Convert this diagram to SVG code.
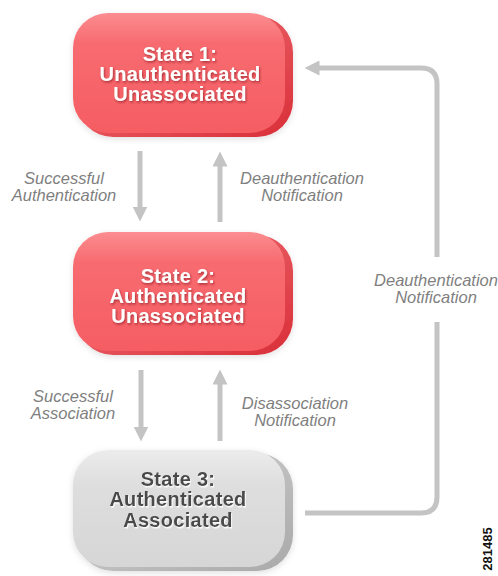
<svg xmlns="http://www.w3.org/2000/svg" width="498" height="576" viewBox="0 0 498 576">
<style>
.lbl{font-family:"Liberation Sans",Arial,sans-serif;font-size:16.5px;font-style:italic;fill:#7f7f7f;text-anchor:middle}
.st{font-family:"Liberation Sans",Arial,sans-serif;font-size:20px;font-weight:bold;text-anchor:middle;letter-spacing:0.3px}
.w{fill:#ffffff}
.d{fill:#4a4a4a}
.conn{fill:none;stroke:#c4c4c4;stroke-width:5}
</style>
<defs>
<linearGradient id="red" x1="0" y1="0" x2="0" y2="1">
<stop offset="0" stop-color="#fb8d90"/>
<stop offset="0.25" stop-color="#f76b70"/>
<stop offset="1" stop-color="#f55d63"/>
</linearGradient>
<linearGradient id="redside" x1="0" y1="0" x2="1" y2="1">
<stop offset="0" stop-color="#f27a7e"/>
<stop offset="1" stop-color="#d92e38"/>
</linearGradient>
<linearGradient id="gray" x1="0" y1="0" x2="0" y2="1">
<stop offset="0" stop-color="#ececec"/>
<stop offset="0.3" stop-color="#dedede"/>
<stop offset="1" stop-color="#d6d6d6"/>
</linearGradient>
<linearGradient id="grayside" x1="0" y1="0" x2="1" y2="1">
<stop offset="0" stop-color="#d8d8d8"/>
<stop offset="1" stop-color="#a9a9a9"/>
</linearGradient>
<filter id="ts" x="-10%" y="-20%" width="120%" height="140%">
<feDropShadow dx="1" dy="1.5" stdDeviation="0.8" flood-color="#8a1a20" flood-opacity="0.7"/>
</filter>
<filter id="tsw" x="-10%" y="-20%" width="120%" height="140%">
<feDropShadow dx="1" dy="1.5" stdDeviation="0.6" flood-color="#ffffff" flood-opacity="0.9"/>
</filter>
<filter id="bs" x="-10%" y="-10%" width="120%" height="130%">
<feDropShadow dx="0" dy="2" stdDeviation="3" flood-color="#000" flood-opacity="0.12"/>
</filter>
<marker id="ah" viewBox="0 0 10 10" refX="5" refY="5" markerWidth="3" markerHeight="3" orient="auto" markerUnits="strokeWidth">
<path d="M0,0 L10,5 L0,10 z" fill="#c4c4c4"/>
</marker>
</defs>

<g id="state1" filter="url(#bs)">
<rect x="77" y="16" width="216" height="121" rx="36" fill="url(#redside)"/>
<rect x="73" y="13" width="212" height="120" rx="35" fill="url(#red)"/>
<g filter="url(#ts)">
<text class="st w" x="180" y="61">State 1:</text>
<text class="st w" x="180" y="81">Unauthenticated</text>
<text class="st w" x="180" y="101">Unassociated</text>
</g>
</g>

<g id="state2" filter="url(#bs)">
<rect x="77" y="235" width="216" height="120" rx="36" fill="url(#redside)"/>
<rect x="73" y="232" width="212" height="119" rx="35" fill="url(#red)"/>
<g filter="url(#ts)">
<text class="st w" x="178" y="283">State 2:</text>
<text class="st w" x="178" y="303">Authenticated</text>
<text class="st w" x="178" y="323">Unassociated</text>
</g>
</g>

<g id="state3" filter="url(#bs)">
<rect x="77" y="453" width="216" height="118" rx="36" fill="url(#grayside)"/>
<rect x="73" y="450" width="212" height="117" rx="35" fill="url(#gray)"/>
<g filter="url(#tsw)">
<text class="st d" x="178" y="486">State 3:</text>
<text class="st d" x="178" y="506">Authenticated</text>
<text class="st d" x="178" y="527">Associated</text>
</g>
</g>

<g id="connectors">
<line class="conn" x1="140" y1="151" x2="140" y2="214" marker-end="url(#ah)"/>
<line class="conn" x1="220" y1="222" x2="220" y2="159" marker-end="url(#ah)"/>
<line class="conn" x1="141" y1="370" x2="141" y2="434" marker-end="url(#ah)"/>
<line class="conn" x1="220" y1="441" x2="220" y2="377" marker-end="url(#ah)"/>
<path class="conn" d="M305,513 H421 Q437,513 437,497 V322"/>
<path class="conn" d="M437,257 V84 Q437,68 421,68 H312" marker-end="url(#ah)"/>
</g>

<g id="labels">
<text class="lbl" x="64" y="184">Successful</text>
<text class="lbl" x="64" y="201">Authentication</text>
<text class="lbl" x="302" y="184">Deauthentication</text>
<text class="lbl" x="302" y="201">Notification</text>
<text class="lbl" x="73" y="402">Successful</text>
<text class="lbl" x="73" y="419">Association</text>
<text class="lbl" x="295" y="409">Disassociation</text>
<text class="lbl" x="295" y="426">Notification</text>
<text class="lbl" x="436" y="286">Deauthentication</text>
<text class="lbl" x="436" y="303">Notification</text>
</g>

<text x="0" y="0" transform="translate(492,549) rotate(-90)" font-family="Liberation Sans,Arial,sans-serif" font-size="13" font-weight="bold" fill="#111" text-anchor="middle">281485</text>
</svg>
